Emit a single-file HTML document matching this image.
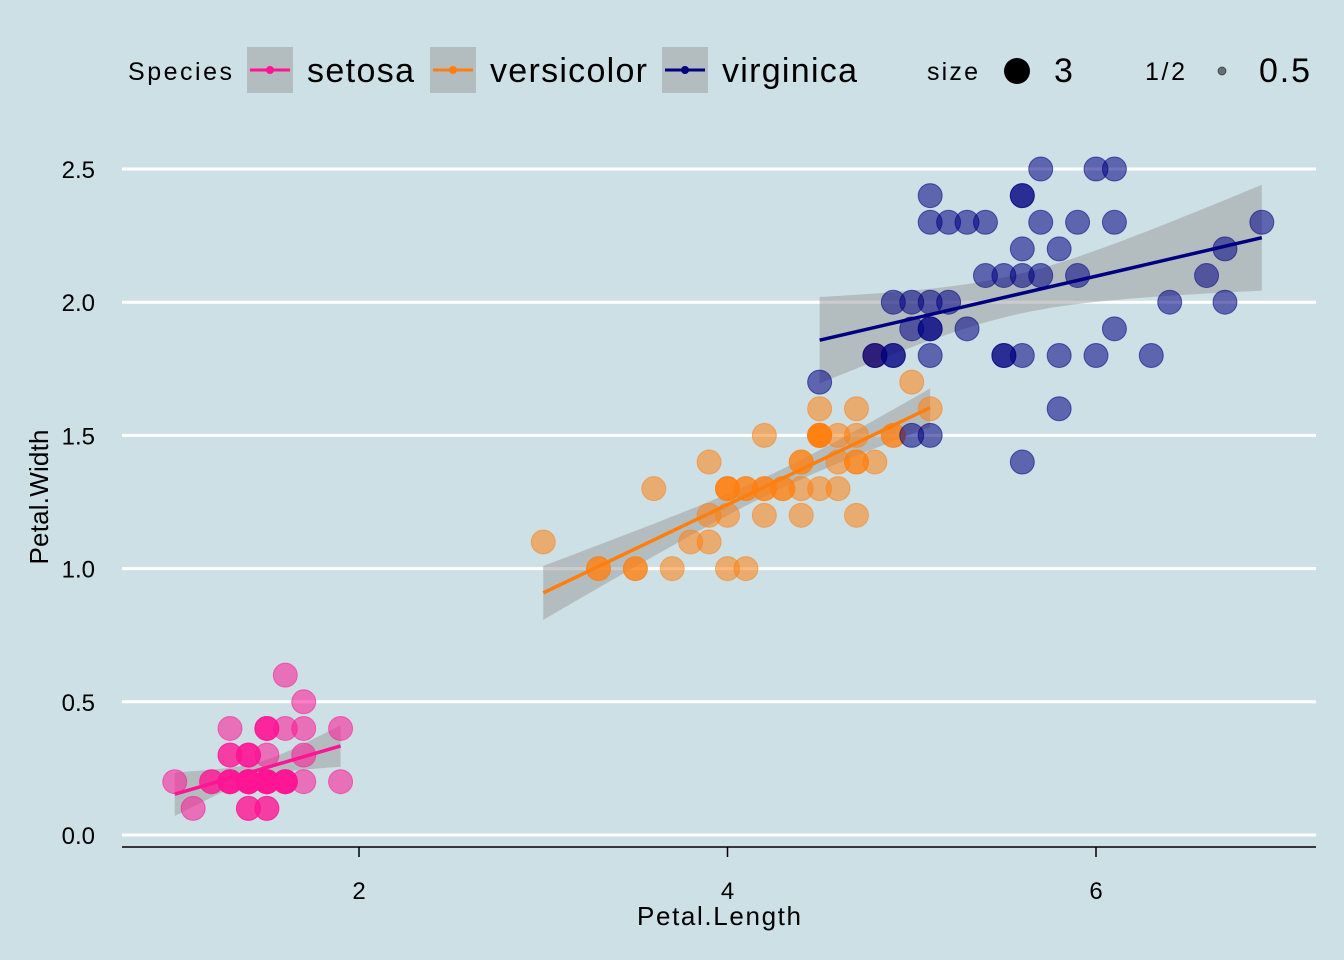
<!DOCTYPE html>
<html><head><meta charset="utf-8"><style>
body{margin:0;background:#CDE0E6;}
svg{display:block;font-family:"Liberation Sans",Arial,sans-serif;}
</style></head><body>
<svg id="chart" width="1344" height="960">
<rect width="1344" height="960" fill="#CDE0E6"/>
<g id="grid"></g>
<g id="bands"></g>
<g id="pts"></g>
<g id="lines"></g>
<g id="axes"></g>
<g>
<text x="128" y="80" font-size="25" textLength="104">Species</text>
<g>
<rect x="247" y="47" width="46" height="46" fill="#B3BCBF"/><line x1="250" y1="70" x2="290" y2="70" stroke="#FF1493" stroke-width="3"/><circle cx="270" cy="70" r="4" fill="#FF1493"/>
<text x="307" y="82" font-size="34" textLength="107">setosa</text></g>
<g>
<rect x="430" y="47" width="46" height="46" fill="#B3BCBF"/><line x1="433" y1="70" x2="473" y2="70" stroke="#FF7F0E" stroke-width="3"/><circle cx="453" cy="70" r="4" fill="#FF7F0E"/>
<text x="490" y="82" font-size="34" textLength="157">versicolor</text></g>
<g>
<rect x="662" y="47" width="46" height="46" fill="#B3BCBF"/><line x1="665" y1="70" x2="705" y2="70" stroke="#000080" stroke-width="3"/><circle cx="685" cy="70" r="4" fill="#000080"/>
<text x="722" y="82" font-size="34" textLength="135">virginica</text></g>
<text x="927" y="80" font-size="25" textLength="51">size</text>
<circle cx="1017" cy="71" r="13" fill="#000"/>
<text x="1054" y="82" font-size="34">3</text>
<text x="1145" y="80" font-size="25" textLength="40">1/2</text>
<circle cx="1222" cy="71" r="4" fill="#000" fill-opacity="0.5" stroke="#000" stroke-opacity="0.5"/>
<text x="1259" y="82" font-size="34" textLength="51">0.5</text>
</g>
<text x="719" y="925" font-size="26" text-anchor="middle" textLength="164">Petal.Length</text>
<text transform="translate(48,497) rotate(-90)" font-size="26" text-anchor="middle" textLength="135">Petal.Width</text>
</svg>
<script>
const species=["setosa","versicolor","virginica"];
const colors=["#FF1493","#FF7F0E","#000080"];
const setosaL=[1.4,1.4,1.3,1.5,1.4,1.7,1.4,1.5,1.4,1.5,1.5,1.6,1.4,1.1,1.2,1.5,1.3,1.4,1.7,1.5,1.7,1.5,1.0,1.7,1.9,1.6,1.6,1.5,1.4,1.6,1.6,1.5,1.5,1.4,1.5,1.2,1.3,1.4,1.3,1.5,1.3,1.3,1.3,1.6,1.9,1.4,1.6,1.4,1.5,1.4];
const setosaW=[0.2,0.2,0.2,0.2,0.2,0.4,0.3,0.2,0.2,0.1,0.2,0.2,0.1,0.1,0.2,0.4,0.4,0.3,0.3,0.3,0.2,0.4,0.2,0.5,0.2,0.2,0.4,0.2,0.2,0.2,0.2,0.4,0.1,0.2,0.2,0.2,0.2,0.1,0.2,0.2,0.3,0.3,0.2,0.6,0.4,0.3,0.2,0.2,0.2,0.2];
const versiL=[4.7,4.5,4.9,4.0,4.6,4.5,4.7,3.3,4.6,3.9,3.5,4.2,4.0,4.7,3.6,4.4,4.5,4.1,4.5,3.9,4.8,4.0,4.9,4.7,4.3,4.4,4.8,5.0,4.5,3.5,3.8,3.7,3.9,5.1,4.5,4.5,4.7,4.4,4.1,4.0,4.4,4.6,4.0,3.3,4.2,4.2,4.2,4.3,3.0,4.1];
const versiW=[1.4,1.5,1.5,1.3,1.5,1.3,1.6,1.0,1.3,1.4,1.0,1.5,1.0,1.4,1.3,1.4,1.5,1.0,1.5,1.1,1.8,1.3,1.5,1.2,1.3,1.4,1.4,1.7,1.5,1.0,1.1,1.0,1.2,1.6,1.5,1.6,1.5,1.3,1.3,1.3,1.2,1.4,1.2,1.0,1.3,1.2,1.3,1.3,1.1,1.3];
const virgL=[6.0,5.1,5.9,5.6,5.8,6.6,4.5,6.3,5.8,6.1,5.1,5.3,5.5,5.0,5.1,5.3,5.5,6.7,6.9,5.0,5.7,4.9,6.7,4.9,5.7,6.0,4.8,4.9,5.6,5.8,6.1,6.4,5.6,5.1,5.6,6.1,5.6,5.5,4.8,5.4,5.6,5.1,5.1,5.9,5.7,5.2,5.0,5.2,5.4,5.1];
const virgW=[2.5,1.9,2.1,1.8,2.2,2.1,1.7,1.8,1.8,2.5,2.0,1.9,2.1,2.0,2.4,2.3,1.8,2.2,2.3,1.5,2.3,2.0,2.0,1.8,2.1,1.8,1.8,1.8,2.1,1.6,1.9,2.0,2.2,1.5,1.4,2.3,2.4,1.8,1.8,2.1,2.4,2.3,1.9,2.3,2.5,2.3,1.9,2.0,2.3,1.8];
const xTicks=[2,4,6];
const yTicks=[0,0.5,1,1.5,2,2.5];
const yTickLabels=["0.0","0.5","1.0","1.5","2.0","2.5"];
const NS="http://www.w3.org/2000/svg";
const X=v=>359+(v-2)*184.25;
const Y=v=>835-v*266.4;
function mk(tag,attrs,parent){const e=document.createElementNS(NS,tag);for(const k in attrs)e.setAttribute(k,attrs[k]);parent.appendChild(e);return e;}
const grid=document.getElementById('grid'),axes=document.getElementById('axes');
yTicks.forEach((t,i)=>{
 const l=mk('line',{x1:122,x2:1316,y1:Y(t),y2:Y(t),stroke:'#fff','stroke-width':3},grid);
 
 
 const tx=mk('text',{x:95,y:Y(t)+9,'font-size':24,'text-anchor':'end'},axes);
 tx.textContent=yTickLabels[i];
 
 
});
const al=mk('line',{x1:122,x2:1316,y1:847,y2:847,stroke:'#000','stroke-width':1.5},axes);


xTicks.forEach(t=>{
 const tk=mk('line',{x1:X(t),x2:X(t),y1:847,y2:857,stroke:'#000','stroke-width':1.5},axes);
 
 
 const tx=mk('text',{x:X(t),y:899,'font-size':24,'text-anchor':'middle'},axes);
 tx.textContent=t;
 
 
});
const groups=[[setosaL,setosaW],[versiL,versiW],[virgL,virgW]];
const pts=document.getElementById('pts'),bands=document.getElementById('bands'),lines=document.getElementById('lines');
groups.forEach(([L,W],gi)=>{
 const n=L.length,mx=L.reduce((a,b)=>a+b)/n,my=W.reduce((a,b)=>a+b)/n;
 let sxx=0,sxy=0;for(let i=0;i<n;i++){sxx+=(L[i]-mx)**2;sxy+=(L[i]-mx)*(W[i]-my);}
 const b=sxy/sxx,a=my-b*mx;let sse=0;for(let i=0;i<n;i++)sse+=(W[i]-a-b*L[i])**2;
 const s=Math.sqrt(sse/(n-2)),t=2.01;
 const x0=Math.min(...L),x1=Math.max(...L);const up=[],lo=[];
 for(let k=0;k<=40;k++){const x=x0+(x1-x0)*k/40,yh=a+b*x,se=s*Math.sqrt(1/n+(x-mx)**2/sxx);up.push(X(x)+','+Y(yh+t*se));lo.unshift(X(x)+','+Y(yh-t*se));}
 const band=mk('polygon',{points:up.concat(lo).join(' '),fill:'#999','fill-opacity':0.5},bands);
 
 
 for(let i=0;i<n;i++){
  const c=mk('circle',{cx:X(L[i]),cy:Y(W[i]),r:12,fill:colors[gi],'fill-opacity':0.55,stroke:colors[gi],'stroke-opacity':0.55,'stroke-width':1},pts);
  
  
 }
 const ln=mk('line',{x1:X(x0),y1:Y(a+b*x0),x2:X(x1),y2:Y(a+b*x1),stroke:colors[gi],'stroke-width':3.5},lines);
 
 
});
</script>
</body></html>
